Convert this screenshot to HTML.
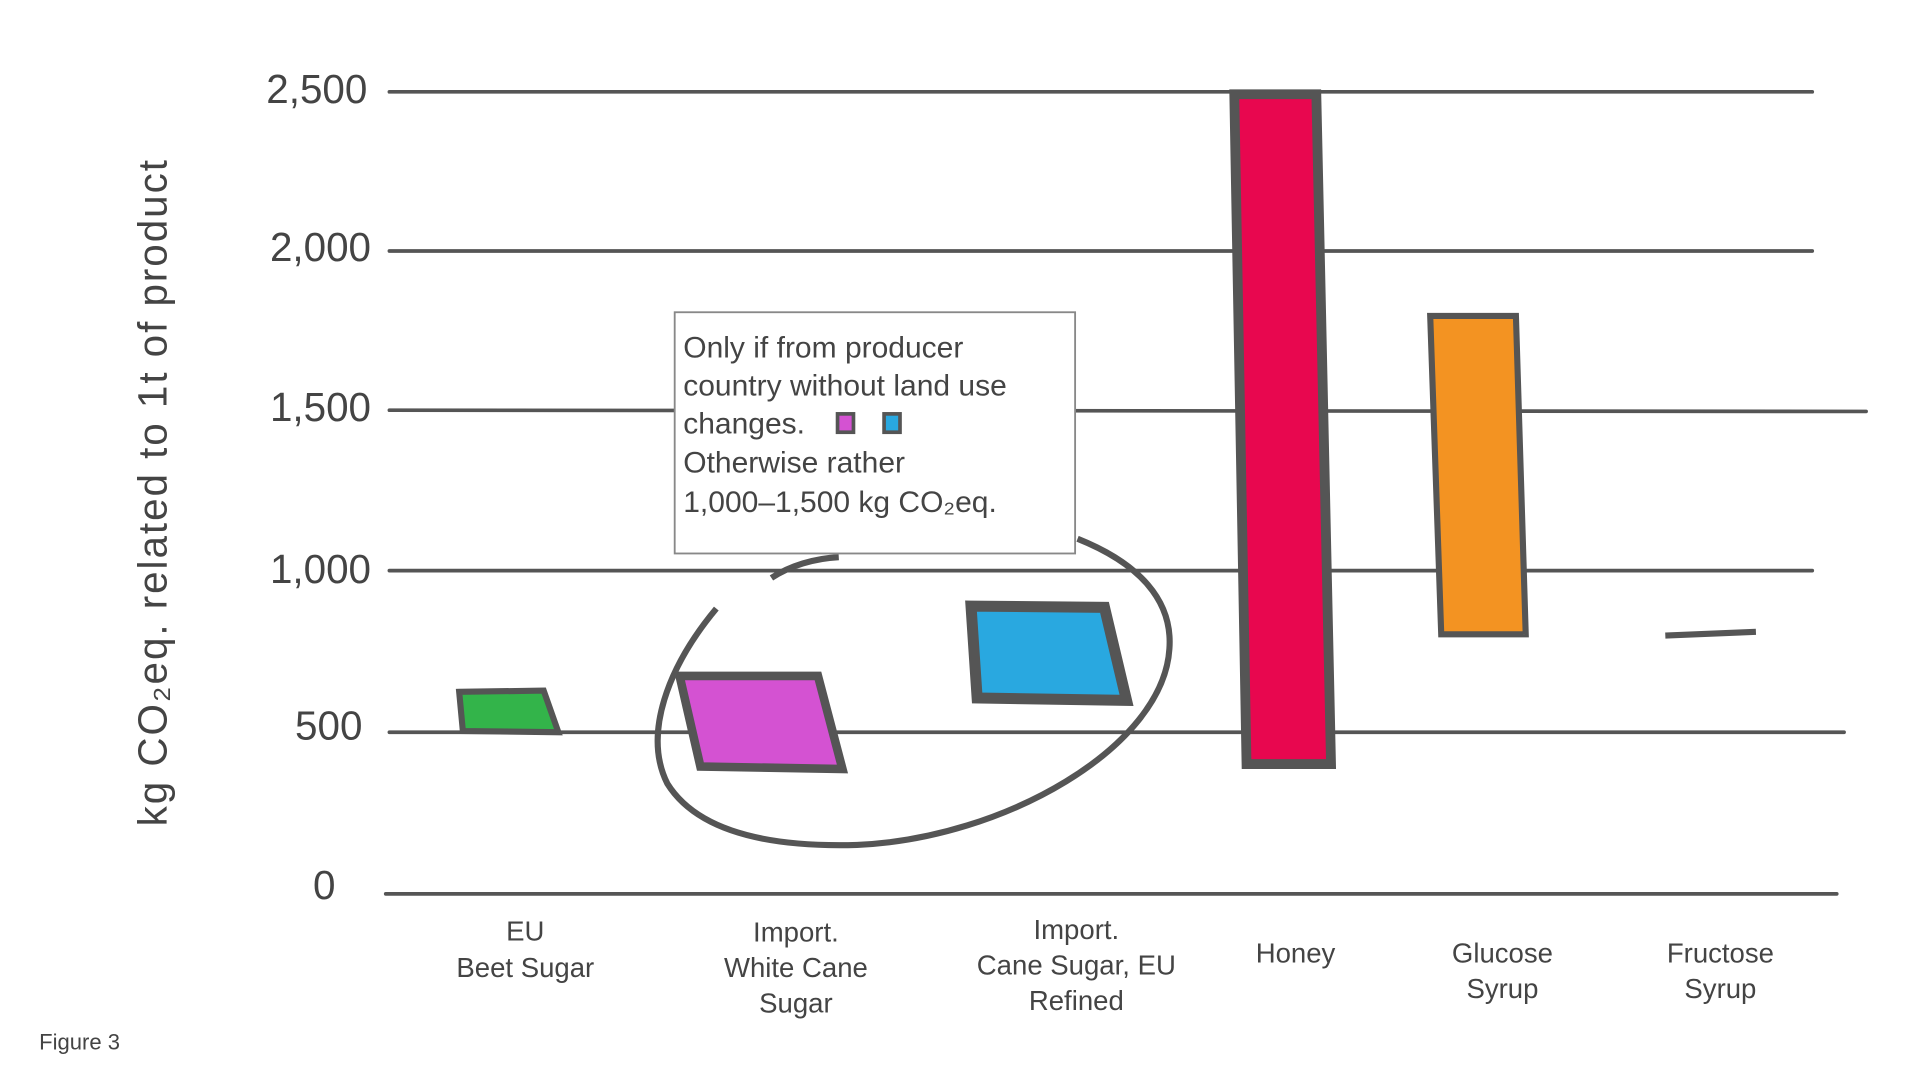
<!DOCTYPE html>
<html><head><style>html,body{margin:0;padding:0;background:#fff}svg{display:block}</style></head>
<body>
<svg width="1920" height="1080" viewBox="0 0 1568 882" preserveAspectRatio="none" xmlns="http://www.w3.org/2000/svg" font-family="Liberation Sans, sans-serif" fill="#444">
<g stroke="#555" stroke-width="3" fill="none" stroke-linecap="round">
<line x1="318" y1="75" x2="1480" y2="75"/>
<line x1="318" y1="205" x2="1480" y2="205"/>
<line x1="318" y1="335" x2="1524" y2="336"/>
<line x1="318" y1="466" x2="1480" y2="466"/>
<line x1="318" y1="598" x2="1506" y2="598"/>
<line x1="315" y1="730" x2="1500" y2="730"/>
</g>
<g font-size="33" text-anchor="end" fill="#444">
<text x="300" y="84">2,500</text>
<text x="303" y="213">2,000</text>
<text x="303" y="344">1,500</text>
<text x="303" y="476">1,000</text>
<text x="296" y="604">500</text>
<text x="274" y="734">0</text>
</g>
<text transform="translate(136,402) rotate(-90)" text-anchor="middle" font-size="33" letter-spacing="1.6">kg CO₂eq. related to 1t of product</text>
<polygon points="375,565 444,564 456,598 378,597" fill="#33b44a" stroke="#555" stroke-width="5"/>
<polygon points="555,552 668,552 688,628 572,626" fill="#d452d2" stroke="#555" stroke-width="7"/>
<polygon points="793,495 902,496 920,572 798,570" fill="#29a8e0" stroke="#555" stroke-width="9"/>
<polygon points="1008,77 1075,77 1087,624 1018,624" fill="#e8074f" stroke="#555" stroke-width="8"/>
<polygon points="1168,258 1238,258 1246,518 1177,518" fill="#f39322" stroke="#555" stroke-width="5"/>
<path d="M1360,519 L1434,516" stroke="#555" stroke-width="5" fill="none"/>
<path d="M585,497 C545,545 525,600 545,640 C570,680 630,692 700,690 C820,685 950,610 955,530 C958,490 930,460 880,440" stroke="#555" stroke-width="5" fill="none"/>
<path d="M630,472 C645,462 665,456 685,455" stroke="#555" stroke-width="5" fill="none"/>
<rect x="551" y="255" width="327" height="197" fill="#fff" stroke="#888" stroke-width="1.5"/>
<g font-size="24.5" fill="#444">
<text x="558" y="292">Only if from producer</text>
<text x="558" y="323">country without land use</text>
<text x="558" y="354">changes.</text>
<text x="558" y="386">Otherwise rather</text>
<text x="558" y="418">1,000–1,500 kg CO₂eq.</text>
</g>
<rect x="684" y="338" width="13" height="15" fill="#d452d2" stroke="#555" stroke-width="3"/>
<rect x="722" y="338" width="13" height="15" fill="#29a8e0" stroke="#555" stroke-width="3"/>
<g font-size="22.5" text-anchor="middle" fill="#444">
<text x="429" y="768">EU</text><text x="429" y="798">Beet Sugar</text>
<text x="650" y="769">Import.</text><text x="650" y="798">White Cane</text><text x="650" y="827">Sugar</text>
<text x="879" y="767">Import.</text><text x="879" y="796">Cane Sugar, EU</text><text x="879" y="825">Refined</text>
<text x="1058" y="786">Honey</text>
<text x="1227" y="786">Glucose</text><text x="1227" y="815">Syrup</text>
<text x="1405" y="786">Fructose</text><text x="1405" y="815">Syrup</text>
</g>
<text x="32" y="857" font-size="18">Figure 3</text>
</svg>
</body></html>
